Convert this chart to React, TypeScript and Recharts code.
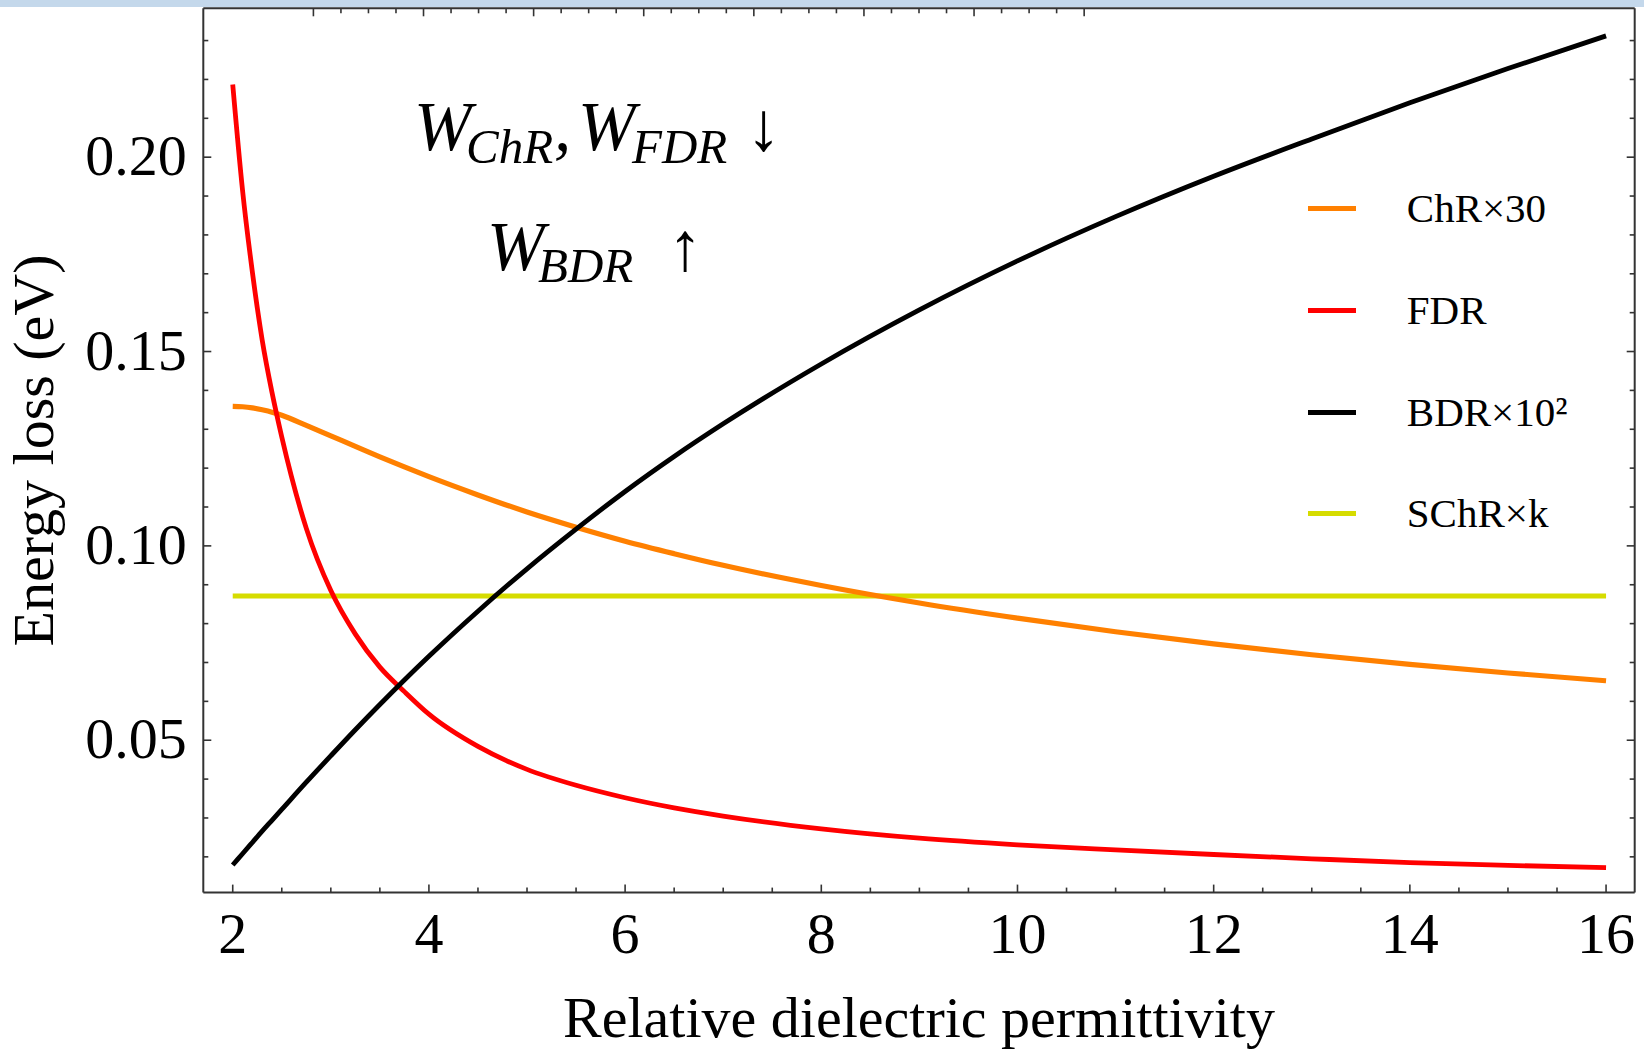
import { LineChart, Line, XAxis, YAxis, Legend, Label } from "recharts";

// relative dielectric permittivity (x) and the four curves
const permittivity = [2, 2.1, 2.2, 2.3, 2.4, 2.5, 2.75, 3, 3.25, 3.5, 3.75, 4, 4.5, 5, 5.5, 6, 6.5, 7, 8, 9, 10, 11, 12, 13, 14, 15, 16];
const chrX30 = [0.1359, 0.1358, 0.1355, 0.135, 0.1344, 0.1336, 0.131, 0.1283, 0.1256, 0.1229, 0.1203, 0.1178, 0.1131, 0.1087, 0.1048, 0.1012, 0.098, 0.095, 0.0898, 0.0853, 0.0814, 0.0779, 0.0748, 0.072, 0.0695, 0.0673, 0.0653];
const fdr = [0.2187, 0.1915, 0.1705, 0.153, 0.1395, 0.128, 0.1045, 0.0885, 0.0773, 0.0688, 0.0625, 0.0567, 0.0484, 0.0425, 0.0384, 0.0352, 0.0326, 0.0305, 0.0272, 0.0248, 0.0231, 0.0218, 0.0206, 0.0195, 0.0185, 0.0178, 0.0172];
const bdrX100 = [0.0179, 0.0208, 0.0237, 0.0266, 0.0294, 0.0322, 0.0392, 0.046, 0.0527, 0.0592, 0.0655, 0.0716, 0.0832, 0.0941, 0.1043, 0.114, 0.123, 0.1314, 0.1468, 0.1607, 0.1733, 0.1847, 0.1951, 0.2047, 0.214, 0.2228, 0.2312];
const schrXk = [0.0871, 0.0871, 0.0871, 0.0871, 0.0871, 0.0871, 0.0871, 0.0871, 0.0871, 0.0871, 0.0871, 0.0871, 0.0871, 0.0871, 0.0871, 0.0871, 0.0871, 0.0871, 0.0871, 0.0871, 0.0871, 0.0871, 0.0871, 0.0871, 0.0871, 0.0871, 0.0871];

const seriesNames = ["ChR×30", "FDR", "BDR×10²", "SChR×k"];
const seriesColors = ["#ff8000", "#ff0000", "#000000", "#d6dc00"];

const xTicks = [2, 2.5, 3, 3.5, 4, 4.5, 5, 5.5, 6, 6.5, 7, 7.5, 8, 8.5, 9, 9.5, 10, 10.5, 11, 11.5, 12, 12.5, 13, 13.5, 14, 14.5, 15, 15.5, 16];
const xMajor = [2, 4, 6, 8, 10, 12, 14, 16];
const yTicks = [0.02, 0.03, 0.04, 0.05, 0.06, 0.07, 0.08, 0.09, 0.1, 0.11, 0.12, 0.13, 0.14, 0.15, 0.16, 0.17, 0.18, 0.19, 0.2, 0.21, 0.22, 0.23];
const yMajor = [0.05, 0.1, 0.15, 0.2];

const data = permittivity.map((eps, i) => ({
  eps,
  chr: chrX30[i],
  fdr: fdr[i],
  bdr: bdrX100[i],
  schr: schrXk[i],
}));

const frame = "#333333";
const serif = "'Liberation Serif', 'Times New Roman', serif";
const isMajor = (v: number, list: number[]) => list.some((m) => Math.abs(m - v) < 1e-9);

const BottomTick = ({ x, y, payload }: any) => {
  const major = isMajor(payload.value, xMajor);
  return (
    <g>
      <line x1={x} x2={x} y1={y} y2={y - (major ? 8 : 5)} stroke={frame} strokeWidth={1.6} />
      {major && (
        <text x={x} y={y + 60.5} textAnchor="middle" fontFamily={serif} fontSize={58} fill="#000">
          {payload.value}
        </text>
      )}
    </g>
  );
};

const TopTick = ({ x, y, payload }: any) => {
  const major = isMajor(payload.value, xMajor);
  return <line x1={x} x2={x} y1={y} y2={y + (major ? 8 : 5)} stroke={frame} strokeWidth={1.6} />;
};

const LeftTick = ({ x, y, payload }: any) => {
  const major = isMajor(payload.value, yMajor);
  return (
    <g>
      <line x1={x} x2={x + (major ? 8 : 5)} y1={y} y2={y} stroke={frame} strokeWidth={1.6} />
      {major && (
        <text x={x - 16.5} y={y + 18} textAnchor="end" fontFamily={serif} fontSize={58} fill="#000">
          {payload.value.toFixed(2)}
        </text>
      )}
    </g>
  );
};

const RightTick = ({ x, y, payload }: any) => {
  const major = isMajor(payload.value, yMajor);
  return <line x1={x} x2={x - (major ? 8 : 5)} y1={y} y2={y} stroke={frame} strokeWidth={1.6} />;
};

const YTitle = ({ viewBox }: any) => {
  const bx = viewBox.x + 53;
  const cy = viewBox.y + viewBox.height / 2;
  return (
    <text x={bx} y={cy} transform={`rotate(-90, ${bx}, ${cy})`} textAnchor="middle" fontFamily={serif} fontSize={58} fill="#000">
      Energy loss (eV)
    </text>
  );
};

const LegendBox = ({ payload }: any) => {
  const items = [...(payload ?? [])].sort(
    (a: any, b: any) => seriesNames.indexOf(a.value) - seriesNames.indexOf(b.value)
  );
  return (
    <div>
      {items.map((item: any) => (
        <div key={item.value} style={{ height: 101.6, display: "flex", alignItems: "center" }}>
          <div style={{ width: 48, height: 5, background: item.color }} />
          <span style={{ marginLeft: 50.5, fontFamily: serif, fontSize: 41, color: "#000", lineHeight: 1.15 }}>
            {item.value}
          </span>
        </div>
      ))}
    </div>
  );
};

export default function App() {
  return (
    <div style={{ position: "absolute", left: 0, top: 0, width: 1644, height: 1050, background: "#fff" }}>
      <div style={{ position: "absolute", left: 0, top: 0, width: 1644, height: 7, background: "#c4d8eb" }} />
      <LineChart width={1644} height={1050} data={data} margin={{ top: 0, right: 0, bottom: 0, left: 0 }}>
        <XAxis
          dataKey="eps"
          type="number"
          domain={[1.7, 16.292]}
          allowDataOverflow
          ticks={xTicks}
          interval={0}
          height={157.4}
          tickSize={0}
          tickMargin={0}
          tickLine={false}
          axisLine={{ stroke: frame, strokeWidth: 2 }}
          tick={BottomTick}
        >
          <Label value="Relative dielectric permittivity" position="insideBottom" offset={13} fill="#000" fontFamily={serif} fontSize={58} />
        </XAxis>
        <XAxis
          xAxisId="top"
          orientation="top"
          type="number"
          domain={[1.7, 16.292]}
          allowDataOverflow
          ticks={xTicks}
          interval={0}
          height={8.3}
          tickSize={0}
          tickMargin={0}
          tickLine={false}
          axisLine={{ stroke: frame, strokeWidth: 2 }}
          tick={TopTick}
        />
        <YAxis
          type="number"
          domain={[0.0108, 0.2383]}
          allowDataOverflow
          ticks={yTicks}
          interval={0}
          width={203.3}
          tickSize={0}
          tickMargin={0}
          tickLine={false}
          axisLine={{ stroke: frame, strokeWidth: 2 }}
          tick={LeftTick}
        >
          <Label content={YTitle} />
        </YAxis>
        <YAxis
          yAxisId="right"
          orientation="right"
          type="number"
          domain={[0.0108, 0.2383]}
          allowDataOverflow
          ticks={yTicks}
          interval={0}
          width={9.3}
          tickSize={0}
          tickMargin={0}
          tickLine={false}
          axisLine={{ stroke: frame, strokeWidth: 2 }}
          tick={RightTick}
        />
        <Line type="monotone" dataKey="schr" name={seriesNames[3]} stroke={seriesColors[3]} strokeWidth={5} dot={false} activeDot={false} isAnimationActive={false} />
        <Line type="monotone" dataKey="chr" name={seriesNames[0]} stroke={seriesColors[0]} strokeWidth={5.2} dot={false} activeDot={false} isAnimationActive={false} />
        <Line type="monotone" dataKey="fdr" name={seriesNames[1]} stroke={seriesColors[1]} strokeWidth={4.8} dot={false} activeDot={false} isAnimationActive={false} />
        <Line type="monotone" dataKey="bdr" name={seriesNames[2]} stroke={seriesColors[2]} strokeWidth={4.8} dot={false} activeDot={false} isAnimationActive={false} />
        <Legend
          layout="vertical"
          align="center"
          verticalAlign="middle"
          wrapperStyle={{ left: 1308.3, top: 158.2, width: 320, height: 410 }}
          content={LegendBox}
        />
      </LineChart>
      <svg width={1644} height={1050} style={{ position: "absolute", left: 0, top: 0, pointerEvents: "none" }}>
        <g fontFamily={serif} fontStyle="italic" fill="#000">
          <text y={150} fontSize={69}>
            <tspan x={414}>W</tspan>
            <tspan x={466} dy={13} fontSize={49}>ChR</tspan>
            <tspan x={554} dy={-13}>,</tspan>
            <tspan x={578}>W</tspan>
            <tspan x={632} dy={13} fontSize={49}>FDR</tspan>
          </text>
          <text x={763.5} y={150} fontSize={69} fontStyle="normal" textAnchor="middle">↓</text>
          <text y={270} fontSize={69}>
            <tspan x={487}>W</tspan>
            <tspan x={538} dy={12} fontSize={49}>BDR</tspan>
          </text>
          <text x={685} y={270} fontSize={69} fontStyle="normal" textAnchor="middle">↑</text>
        </g>
      </svg>
    </div>
  );
}
